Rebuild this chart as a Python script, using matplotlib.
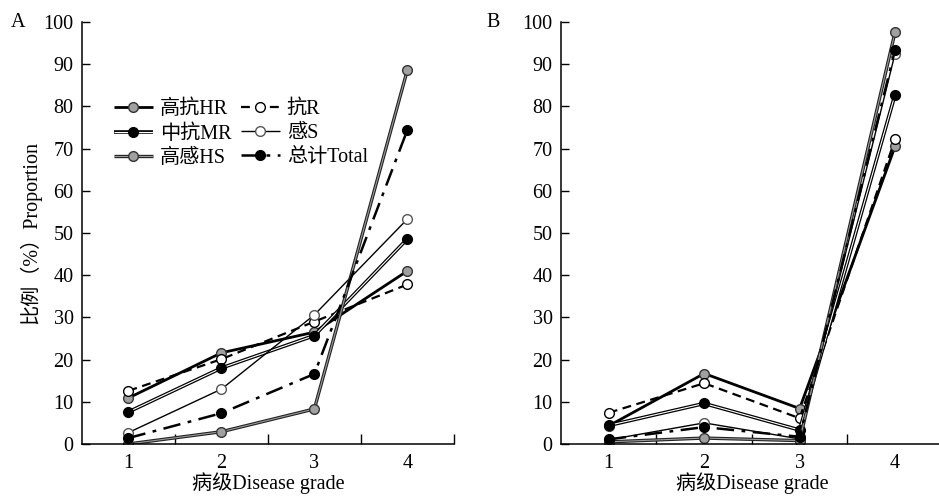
import matplotlib.pyplot as plt
import matplotlib.patheffects as pe
from matplotlib.legend_handler import HandlerTuple

plt.rcParams['font.family'] = ['Liberation Serif', 'Noto Sans CJK SC']
plt.rcParams['axes.unicode_minus'] = False

grades = [1, 2, 3, 4]
grade_labels = ['1', '2', '3', '4']

# panel A
a_hr = [10.9, 21.6, 26.5, 41.0]
a_r = [12.6, 20.1, 29.0, 37.8]
a_mr = [7.6, 18.0, 25.7, 48.6]
a_s = [2.7, 13.0, 30.6, 53.3]
a_hs = [0.0, 2.9, 8.3, 88.6]
a_total = [1.4, 7.3, 16.6, 74.4]

# panel B
b_hr = [4.3, 16.7, 8.4, 70.5]
b_r = [7.4, 14.4, 6.1, 72.2]
b_mr = [4.4, 9.6, 3.3, 82.8]
b_s = [1.0, 5.0, 1.2, 92.5]
b_hs = [0.5, 1.4, 0.8, 97.6]
b_total = [1.1, 4.0, 1.7, 93.4]

names = ['高抗HR', '抗R', '中抗MR', '感S', '高感HS', '总计Total']

# line style per series: (line kwargs, path effects, marker kwargs)
styles = {
    '高抗HR': (dict(color='black', lw=2.0, ls='-'), None,
              dict(mfc='#a0a0a0', mec='#333333', mew=1.0)),
    '抗R': (dict(color='black', lw=1.6, ls=(0, (4, 2.5))), None,
           dict(mfc='white', mec='black', mew=1.0)),
    '中抗MR': (dict(color='white', lw=0.8, ls='-'),
             [pe.Stroke(linewidth=2.6, foreground='black'), pe.Normal()],
             dict(mfc='black', mec='black', mew=1.0)),
    '感S': (dict(color='black', lw=1.0, ls='-'), None,
           dict(mfc='white', mec='#555555', mew=1.0)),
    '高感HS': (dict(color='#9a9a9a', lw=0.8, ls='-'),
             [pe.Stroke(linewidth=2.4, foreground='#222222'), pe.Normal()],
             dict(mfc='#a0a0a0', mec='#333333', mew=1.0)),
    '总计Total': (dict(color='black', lw=1.8, ls=(0, (7, 3, 1.5, 3))), None,
                dict(mfc='black', mec='black', mew=1.0)),
}

fig = plt.figure(figsize=(9.39, 4.97), dpi=100)
ax_a = fig.add_axes([0.0873, 0.1067, 0.396, 0.849])
ax_b = fig.add_axes([0.5975, 0.1067, 0.4065, 0.849])


def draw(ax, series):
    handles = []
    for name, vals in zip(names, series):
        lkw, effects, mkw = styles[name]
        ln, = ax.plot(grades, vals, **lkw, solid_capstyle='butt')
        if effects:
            ln.set_path_effects(effects)
        mk, = ax.plot(grades, vals, ls='none', marker='o', ms=7, **mkw)
        handles.append((ln, mk))
    ax.set_xlim(0.5, 4.5)
    ax.set_ylim(0, 100)
    ax.set_yticks(range(0, 101, 10))
    ax.set_xticks(grades)
    ax.set_xticklabels(grade_labels)
    ax.set_xticks([1.5, 2.5, 3.5, 4.5], minor=True)
    ax.tick_params(axis='x', which='major', length=0, labelsize=14.5, pad=7)
    ax.tick_params(axis='x', which='minor', direction='in', length=7, width=1)
    ax.tick_params(axis='y', direction='in', length=6, width=1, labelsize=14.5, pad=6)
    for s in ['top', 'right']:
        ax.spines[s].set_visible(False)
    for s in ['left', 'bottom']:
        ax.spines[s].set_linewidth(1.1)
    ax.set_xlabel('病级Disease grade', fontsize=14.5, labelpad=0)
    return handles


h = draw(ax_a, [a_hr, a_r, a_mr, a_s, a_hs, a_total])
draw(ax_b, [b_hr, b_r, b_mr, b_s, b_hs, b_total])

ax_a.set_ylabel('比例（%）Proportion', fontsize=14.5, labelpad=2)

# legend: col1 HR, MR, HS; col2 R, S, Total
order = [0, 2, 4, 1, 3, 5]
ax_a.legend([h[i] for i in order], [names[i] for i in order],
            handler_map={tuple: HandlerTuple(ndivide=1)},
            ncol=2, frameon=False, fontsize=14.5, loc='upper left',
            bbox_to_anchor=(0.06, 0.84), borderpad=0, handlelength=1.9,
            handletextpad=0.35, columnspacing=0.5, labelspacing=0.25)

fig.text(0.012, 0.955, 'A', fontsize=14.5, va='center')
fig.text(0.518, 0.955, 'B', fontsize=14.5, va='center')

fig.savefig('out.png', dpi=100)
